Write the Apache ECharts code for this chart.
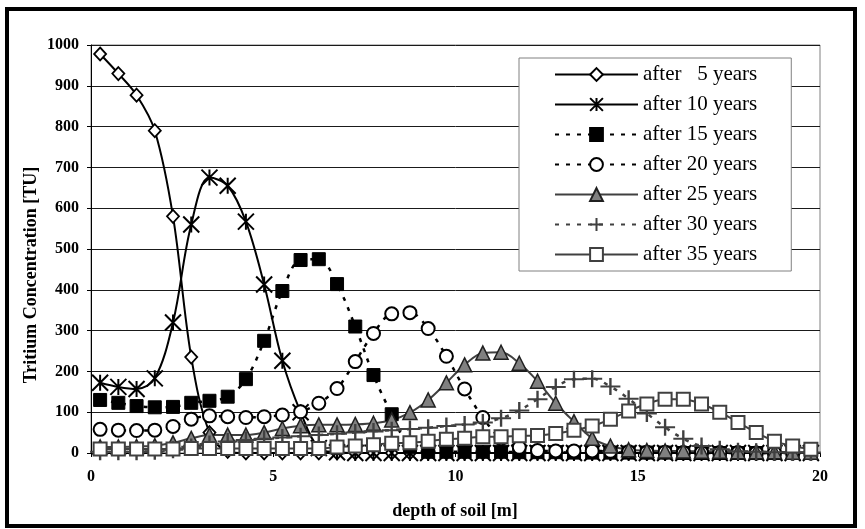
<!DOCTYPE html>
<html>
<head>
<meta charset="utf-8">
<script src="https://cdn.jsdelivr.net/npm/echarts@6/dist/echarts.min.js"></script>
<style>
html,body{margin:0;padding:0;background:#fff;}
#chart{width:865px;height:529px;}
</style>
</head>
<body>
<div id="chart"></div>
<script>
// depth of soil [m]
const depths = [0.25,0.75,1.25,1.75,2.25,2.75,3.25,3.75,4.25,4.75,5.25,5.75,6.25,6.75,7.25,7.75,8.25,8.75,9.25,9.75,10.25,10.75,11.25,11.75,12.25,12.75,13.25,13.75,14.25,14.75,15.25,15.75,16.25,16.75,17.25,17.75,18.25,18.75,19.25,19.75];
const seriesNames = ['after   5 years','after 10 years','after 15 years','after 20 years','after 25 years','after 30 years','after 35 years'];
const y5  = [978,930,877,790,580,235,50,4,0,0, 0,0,0,0,0,0,0,0,0,0, 0,0,0,0,0,0,0,0,0,0, 0,0,0,0,0,0,0,0,0,0];
const y10 = [172,162,157,183,320,560,675,655,567,413, 226,100,12,2,0,0,0,0,0,0, 0,0,0,0,0,0,0,0,0,0, 0,0,0,0,0,0,0,0,0,0];
const y15 = [130,123,115,112,113,123,128,138,181,275, 397,473,475,414,310,191,95,15,3,3, 3,3,3,2,2,2,1,1,1,1, 1,1,0,0,0,0,0,0,0,0];
const y20 = [58,56,55,56,65,83,91,89,87,89, 93,101,122,158,224,293,341,344,305,237, 157,87,35,14,6,5,5,5,4,3, 2,2,1,1,1,1,0,0,0,0];
const y25 = [15,15,16,18,25,36,44,44,44,50, 60,67,69,69,70,73,81,99,130,172, 216,245,247,220,176,122,77,36,17,8, 6,5,5,4,4,3,3,3,2,2];
const y30 = [3,3,3,4,8,15,22,28,32,35, 38,41,44,47,50,53,56,59,62,66, 70,75,85,104,132,162,181,182,163,133, 97,63,35,17,9,4,3,2,1,1];
const y35 = [10,10,10,10,10,11,11,11,11,11, 11,11,11,15,17,20,24,25,29,34, 36,40,40,42,43,48,56,66,83,103, 120,132,132,120,100,75,50,29,17,9];
const xTicks = [0,5,10,15,20];
const yTicks = [0,100,200,300,400,500,600,700,800,900,1000];

const pairs = ys => depths.map((d,i)=>[d, ys[i]]);
const FONT = '"Liberation Serif","Times New Roman",serif';
const ASTER = 'path://M0,0 L20,20 M0,20 L20,0 M10,0 L10,20';
const PLUS = 'path://M0,10 L20,10 M10,0 L10,20';

function mk(name, ys, opt){
  return Object.assign({
    name, type:'line', data:pairs(ys), smooth:0.35, silent:true,
    clip:false
  }, opt);
}

const series = [
  mk(seriesNames[0], y5, {symbol:'diamond', symbolSize:[12,13],
     lineStyle:{color:'#000', width:2}, itemStyle:{color:'#fff', borderColor:'#000', borderWidth:1.8}}),
  mk(seriesNames[1], y10, {symbol:ASTER, symbolSize:[16,16],
     lineStyle:{color:'#000', width:2}, itemStyle:{color:'#000', borderColor:'#000', borderWidth:2}}),
  mk(seriesNames[2], y15, {symbol:'rect', symbolSize:[13,13],
     lineStyle:{color:'#000', width:2.5, type:[4,7]}, itemStyle:{color:'#000', borderColor:'#000', borderWidth:1}}),
  mk(seriesNames[3], y20, {symbol:'circle', symbolSize:[13,13],
     lineStyle:{color:'#000', width:2.5, type:[4,7]}, itemStyle:{color:'#fff', borderColor:'#000', borderWidth:2}}),
  mk(seriesNames[4], y25, {symbol:'triangle', symbolSize:[14,14],
     lineStyle:{color:'#404040', width:2}, itemStyle:{color:'#808080', borderColor:'#202020', borderWidth:1.5}}),
  mk(seriesNames[5], y30, {symbol:PLUS, symbolSize:[20,17],
     lineStyle:{color:'#404040', width:2.5, type:[4,7]}, itemStyle:{color:'#404040', borderColor:'#404040', borderWidth:2.2}}),
  mk(seriesNames[6], y35, {symbol:'rect', symbolSize:[13,13],
     lineStyle:{color:'#404040', width:2}, itemStyle:{color:'#fff', borderColor:'#404040', borderWidth:2}})
];

const chart = echarts.init(document.getElementById('chart'), null, {renderer:'canvas'});
chart.setOption({
  animation:false,
  backgroundColor:'#fff',
  textStyle:{fontFamily:FONT},
  grid:{left:91, right:45, top:45, bottom:76, show:true, borderColor:'#808080', borderWidth:1, backgroundColor:'transparent'},
  xAxis:{
    type:'value', min:xTicks[0], max:xTicks[xTicks.length-1], interval:5,
    axisLine:{show:true, lineStyle:{color:'#000', width:1}},
    axisTick:{show:true, length:4, lineStyle:{color:'#000'}},
    axisLabel:{fontFamily:FONT, fontWeight:'bold', fontSize:16, color:'#000', margin:16, formatter:v=>String(v)},
    splitLine:{show:false}
  },
  yAxis:{
    type:'value', min:yTicks[0], max:yTicks[yTicks.length-1], interval:100,
    axisLine:{show:true, lineStyle:{color:'#000', width:1}},
    axisTick:{show:true, length:4, lineStyle:{color:'#000'}},
    axisLabel:{fontFamily:FONT, fontWeight:'bold', fontSize:16, color:'#000', margin:12, formatter:v=>String(v)},
    splitLine:{show:true, lineStyle:{color:'#1a1a1a', width:1}}
  },
  legend:{
    data:seriesNames,
    orient:'vertical', left:519, top:58,
    itemWidth:83, itemHeight:16, itemGap:9,
    padding:[6,34,6,35],
    backgroundColor:'#fff', borderColor:'#808080', borderWidth:1,
    textStyle:{fontFamily:FONT, fontSize:21, color:'#000', lineHeight:21},
    selectedMode:false
  },
  graphic:[
    {type:'rect', shape:{x:7, y:9, width:848, height:517}, style:{fill:'none', stroke:'#000', lineWidth:4}, silent:true, z:100},
    {type:'text', x:31, y:275, rotation:Math.PI/2, silent:true,
     style:{text:'Tritium Concentration [TU]', font:'bold 18px "Liberation Serif"', fill:'#000', align:'center', verticalAlign:'middle'}},
    {type:'text', x:455, y:511, silent:true,
     style:{text:'depth of soil [m]', font:'bold 18px "Liberation Serif"', fill:'#000', align:'center', verticalAlign:'middle'}}
  ],
  series
});
</script>
</body>
</html>
